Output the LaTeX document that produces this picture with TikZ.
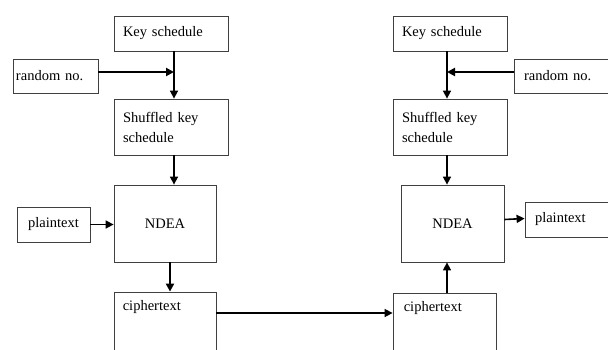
\documentclass[tikz,border=0pt]{standalone}
\usepackage{fontspec}
\setmainfont{Liberation Serif}
\usetikzlibrary{arrows.meta,calc}
\begin{document}
\begin{tikzpicture}[x=1pt,y=-1pt,
  box/.style={draw=black!75,line width=0.8pt,rectangle,minimum width=#1,inner sep=0pt,font=\fontsize{14.5}{20}\selectfont},
  lbox/.style={box=#1,align=left,text width=#1-18pt,inner xsep=9pt},
  conn/.style={line width=1.6pt,-{Triangle[length=8pt,width=8pt]}},
  thick conn/.style={line width=2.6pt,-{Triangle[length=8pt,width=8pt]}},
  txt/.style={font=\fontsize{14.5}{20}\selectfont,inner sep=0pt}]
\useasboundingbox (0,0) rectangle (608,349);
\clip (0,0) rectangle (608,349);
% left column
\node[lbox=114pt,minimum height=35pt] (ks1) at (171,33.5) {Key schedule};
\node[box=85pt,minimum height=34pt,align=left,text width=79pt,inner xsep=3pt] (rn1) at (55.5,76) {random no.};
\node[lbox=114pt,minimum height=56pt] (sk1) at (171,127) {Shuffled key\\schedule};
\node[box=102pt,minimum height=77pt] (nd1) at (165,223.5) {NDEA};
\node[box=73pt,minimum height=35pt] (pt1) at (53.5,224.5) {plaintext};
\node[box=102pt,minimum height=76pt,label={[txt,anchor=north west,xshift=9pt,yshift=-9pt]north west:ciphertext}] (ct1) at (165,330) {};
% right column
\node[lbox=114pt,minimum height=35pt] (ks2) at (450,33.5) {Key schedule};
\node[box=101pt,minimum height=34pt,align=left,text width=91pt,inner xsep=10pt] (rn2) at (569.5,76) {random no.};
\node[lbox=114pt,minimum height=56pt] (sk2) at (450,127) {Shuffled key\\schedule};
\node[box=103pt,minimum height=77pt] (nd2) at (452.5,223.5) {NDEA};
\node[box=90pt,minimum height=35pt,align=left,text width=80pt,inner xsep=10pt] (pt2) at (575,219.5) {plaintext};
\node[box=103pt,minimum height=74pt,label={[txt,anchor=north west,xshift=11pt,yshift=-9pt]north west:ciphertext}] (ct2) at (444.5,330) {};
% left connectors
\coordinate (j1) at (174,72);
\draw[line width=1.4pt] ([xshift=3pt]ks1.south) -- (j1);
\draw[conn] (j1) -- ([xshift=3pt]sk1.north);
\draw[thick conn] ([yshift=4pt]rn1.east) -- (j1);
\draw[conn] ([xshift=3pt]sk1.south) -- ([xshift=9pt]nd1.north);
\draw[conn] (pt1.east) -- (pt1.east -| nd1.west);
\draw[thick conn] ([xshift=5pt]nd1.south) -- ([xshift=5pt]nd1.south |- ct1.north);
\draw[conn] (ct1.east |- 0,313) -- (ct2.west |- 0,313);
% right connectors
\coordinate (j2) at (447,72);
\draw[line width=1.4pt] ([xshift=-3pt]ks2.south) -- (j2);
\draw[conn] (j2) -- ([xshift=-3pt]sk2.north);
\draw[thick conn] ([yshift=4pt]rn2.west) -- (j2);
\draw[conn] ([xshift=-3pt]sk2.south) -- ([xshift=-5.5pt]nd2.north);
\draw[conn] (nd2.east |- pt2.west) -- ([yshift=1pt]pt2.west);
\draw[conn] ([xshift=2.5pt]ct2.north) -- ([xshift=2.5pt]ct2.north |- nd2.south);
\end{tikzpicture}
\end{document}
